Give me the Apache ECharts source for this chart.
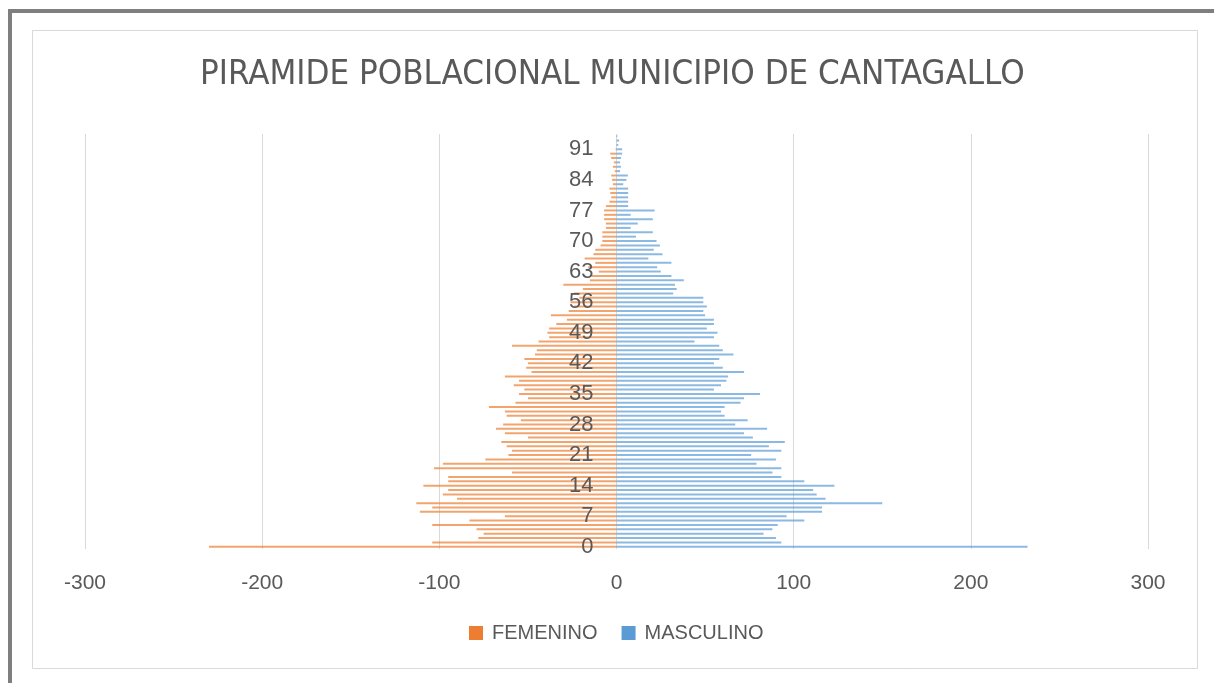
<!DOCTYPE html>
<html>
<head>
<meta charset="utf-8">
<script src="https://cdn.jsdelivr.net/npm/echarts@6/dist/echarts.min.js"></script>
<style>
html,body{margin:0;padding:0;background:#fff;}
#c{width:1214px;height:683px;}
</style>
</head>
<body>
<div id="c"></div>
<script>
// Ages 0..94
const ages = [];
for (let a = 0; a <= 94; a++) ages.push(String(a));

const femenino = [
230,104,78,75,79,104,83,63,111,104,
113,90,98,95,109,95,95,59,103,98,
74,61,59,62,65,50,63,68,64,54,
62,63,72,57,50,55,52,58,55,63,
48,51,50,52,46,45,59,44,38,39,
38,34,28,37,27,24,26,21,24,19,
30,15,14,10,16,12,18,13,12,9,
8,8,8,6,6,7,7,7,6,4,
3,3.5,4,2,2.5,3,1,2,1.5,3,
3.5,0.5,0,0,0
];

const masculino = [
232,93,90,83,88,91,106,96,116,116,
150,118,113,111,123,106,93,88,93,79,
90,76,93,86,95,77,72,85,67,74,
61,59,61,70,72,81,55,59,62,63,
72,60,55,58,66,60,58,44,55,57,
51,55,55,50,49,51,49,49,32,34,
33,38,31,25,23,31,18,26,21,24.5,
22.6,11,20.5,8,12,20.5,8,21.5,6.6,6.6,
6.6,6.6,6.6,3.8,5.6,6.4,2,2.5,2,2.5,
3.2,3.2,1,1.5,0.5
];

const xTicks = [-300,-200,-100,0,100,200,300];

const chart = echarts.init(document.getElementById('c'));
const grey = '#595959';
const GL = 85, GR = 66, W = 1214;
const zeroX = GL + (W - GL - GR) / 2;
chart.setOption({
  animation: false,
  backgroundColor: '#ffffff',
  title: {
    text: 'PIRAMIDE POBLACIONAL MUNICIPIO DE CANTAGALLO',
    left: 195,
    top: 53,
    textStyle: {
      fontFamily: "'Liberation Sans Narrow','DejaVu Sans Condensed',sans-serif",
      fontWeight: 'normal',
      fontSize: 34.6,
      color: grey
    }
  },
  legend: {
    data: [
      { name: 'FEMENINO', itemStyle: { color: '#ED7D31', opacity: 1 } },
      { name: 'MASCULINO', itemStyle: { color: '#5B9BD5', opacity: 1 } }
    ],
    bottom: 35,
    left: 464,
    itemWidth: 14,
    itemHeight: 14,
    itemGap: 24,
    icon: 'rect',
    textStyle: {
      fontFamily: "'Liberation Sans',Arial,sans-serif",
      fontSize: 20,
      color: grey,
      padding: [0, 0, 0, 4]
    }
  },
  grid: { left: GL, right: GR, top: 134, bottom: 134, containLabel: false },
  xAxis: {
    type: 'value',
    min: xTicks[0],
    max: xTicks[xTicks.length - 1],
    interval: 100,
    axisLine: { show: false },
    axisTick: { show: false },
    axisLabel: {
      margin: 24,
      fontFamily: "'Liberation Sans',Arial,sans-serif",
      fontSize: 21,
      color: grey
    },
    splitLine: { show: true, lineStyle: { color: '#d9d9d9', width: 1 } }
  },
  yAxis: {
    type: 'category',
    data: ages,
    z: 5,
    position: 'left',
    offset: -(zeroX - GL),
    axisLine: { show: false, onZero: false },
    axisTick: { show: false },
    axisLabel: {
      interval: 6,
      margin: 23,
      fontFamily: "'Liberation Sans',Arial,sans-serif",
      fontSize: 22,
      color: grey
    },
    splitLine: { show: false }
  },
  series: [
    {
      name: 'FEMENINO',
      type: 'bar',
      data: femenino.map(v => -v),
      barWidth: 2,
      barGap: '-100%',
      itemStyle: { color: '#ED7D31', opacity: 0.7 },
      emphasis: { disabled: true }
    },
    {
      name: 'MASCULINO',
      type: 'bar',
      data: masculino,
      barWidth: 2,
      barGap: '-100%',
      itemStyle: { color: '#5B9BD5', opacity: 0.7 },
      emphasis: { disabled: true }
    }
  ],
  graphic: [
    { type: 'rect', z: -10, shape: { x: 32.5, y: 30.5, width: 1165, height: 638 },
      style: { fill: 'none', stroke: '#d9d9d9', lineWidth: 1 } },
    { type: 'rect', z: 100, shape: { x: 8, y: 9, width: 1206, height: 4 },
      style: { fill: '#7f7f7f' } },
    { type: 'rect', z: 100, shape: { x: 8, y: 9, width: 4, height: 674 },
      style: { fill: '#7f7f7f' } }
  ]
});
</script>
</body>
</html>
